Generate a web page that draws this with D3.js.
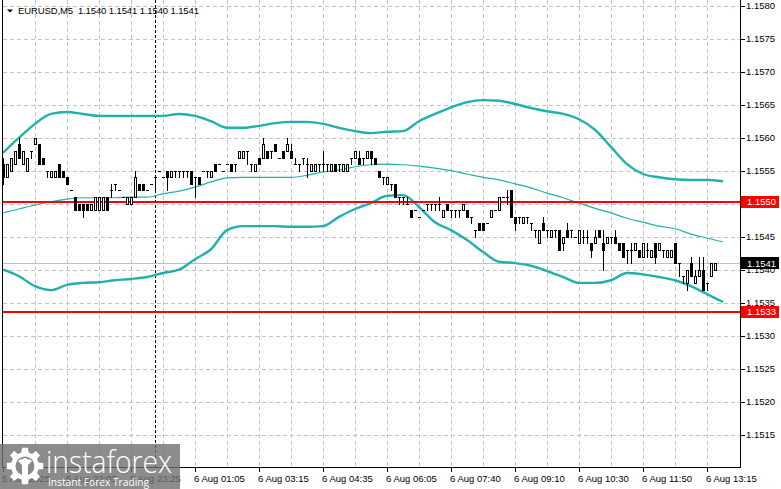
<!doctype html>
<html lang="en">
<head>
  <meta charset="utf-8">
  <title>EURUSD,M5</title>
  <style>
  body { margin: 0; background: #fff; }
  svg { display: block; font-family: "Liberation Sans", Arial, sans-serif; }
  .grid line { stroke: #c4c4c4; stroke-dasharray: 4,3; shape-rendering: crispEdges; }
  .frame line { stroke: #000; shape-rendering: crispEdges; }
  .candles line, .candles rect { shape-rendering: crispEdges; }
  .band { fill: none; stroke: #20b2aa; stroke-linejoin: round; }
  .axis text { font-size: 9.5px; fill: #000; }
  </style>
</head>
<body>
  <div id="chart"></div>
  <script src="https://cdn.jsdelivr.net/npm/d3@7/dist/d3.min.js"></script>
  <script>
    // EURUSD M5 bars, oldest first
    var open = [1.1556,1.1554,1.1555,1.1556,1.1559,1.1556,1.1555,1.1558,1.1559,1.1559,
      1.1557,1.1555,1.1554,1.1554,1.1556,1.1555,1.1554,1.1552,1.1551,1.1550,
      1.1550,1.1550,1.1549,1.1549,1.1549,1.1549,1.1551,1.1552,1.1553,1.1552,
      1.1551,1.1550,1.1550,1.1551,1.1553,1.1553,1.1552,1.1553,1.1554,1.1555,
      1.1554,1.1555,1.1554,1.1555,1.1555,1.1555,1.1555,1.1555,1.1554,1.1554,
      1.1555,1.1555,1.1554,1.1556,1.1556,1.1555,1.1556,1.1556,1.1556,1.1557,
      1.1557,1.1558,1.1556,1.1555,1.1557,1.1557,1.1558,1.1558,1.1559,1.1557,
      1.1558,1.1558,1.1558,1.1556,1.1556,1.1557,1.1556,1.1555,1.1555,1.1556,
      1.1556,1.1556,1.1555,1.1556,1.1556,1.1555,1.1555,1.1557,1.1557,1.1557,
      1.1557,1.1557,1.1558,1.1557,1.1555,1.1554,1.1553,1.1553,1.1553,1.1551,
      1.1551,1.1550,1.1549,1.1549,1.1548,1.1549,1.1550,1.1550,1.1550,1.1550,
      1.1548,1.1550,1.1549,1.1549,1.1549,1.1549,1.1549,1.1548,1.1546,1.1547,
      1.1547,1.1547,1.1548,1.1549,1.1549,1.1551,1.1551,1.1552,1.1548,1.1548,
      1.1547,1.1548,1.1547,1.1546,1.1544,1.1547,1.1546,1.1545,1.1546,1.1546,
      1.1544,1.1546,1.1546,1.1545,1.1544,1.1545,1.1545,1.1544,1.1544,1.1546,
      1.1544,1.1544,1.1545,1.1545,1.1544,1.1544,1.1543,1.1543,1.1543,1.1543,
      1.1542,1.1543,1.1542,1.1544,1.1543,1.1543,1.1542,1.1542,1.1544,1.1541,
      1.1539,1.1538,1.1541,1.1538,1.1539,1.1540,1.1538,1.1539,1.1540];
    var high = [1.1557,1.1556,1.1557,1.1558,1.1560,1.1558,1.1557,1.1558,1.1560,1.1559,
      1.1557,1.1555,1.1555,1.1555,1.1556,1.1555,1.1554,1.1552,1.1551,1.1550,
      1.1550,1.1550,1.1550,1.1551,1.1551,1.1551,1.1551,1.1553,1.1553,1.1552,
      1.1551,1.1551,1.1551,1.1555,1.1553,1.1553,1.1552,1.1553,1.1554,1.1555,
      1.1554,1.1555,1.1555,1.1555,1.1555,1.1555,1.1555,1.1555,1.1554,1.1554,
      1.1555,1.1555,1.1555,1.1556,1.1556,1.1555,1.1556,1.1556,1.1556,1.1558,
      1.1558,1.1558,1.1556,1.1556,1.1557,1.1560,1.1558,1.1558,1.1559,1.1557,
      1.1558,1.1560,1.1559,1.1557,1.1556,1.1557,1.1557,1.1556,1.1556,1.1556,
      1.1558,1.1556,1.1556,1.1556,1.1556,1.1556,1.1556,1.1557,1.1558,1.1558,
      1.1557,1.1558,1.1558,1.1557,1.1555,1.1554,1.1554,1.1553,1.1553,1.1551,
      1.1551,1.1551,1.1549,1.1549,1.1548,1.1549,1.1550,1.1550,1.1550,1.1551,
      1.1549,1.1550,1.1549,1.1549,1.1549,1.1550,1.1549,1.1548,1.1546,1.1547,
      1.1547,1.1547,1.1549,1.1549,1.1551,1.1551,1.1552,1.1552,1.1548,1.1548,
      1.1548,1.1548,1.1547,1.1546,1.1546,1.1548,1.1546,1.1546,1.1546,1.1546,
      1.1545,1.1547,1.1546,1.1545,1.1546,1.1546,1.1546,1.1544,1.1546,1.1546,
      1.1546,1.1545,1.1545,1.1546,1.1544,1.1544,1.1543,1.1544,1.1544,1.1543,
      1.1544,1.1544,1.1543,1.1544,1.1544,1.1543,1.1543,1.1543,1.1544,1.1541,
      1.1539,1.1540,1.1542,1.1540,1.1542,1.1542,1.1538,1.1541,1.1541];
    var low = [1.1553,1.1554,1.1555,1.1556,1.1557,1.1556,1.1555,1.1557,1.1559,1.1556,
      1.1556,1.1554,1.1554,1.1554,1.1554,1.1554,1.1553,1.1552,1.1549,1.1549,
      1.1548,1.1549,1.1549,1.1549,1.1549,1.1549,1.1549,1.1551,1.1552,1.1552,
      1.1551,1.1550,1.1550,1.1551,1.1552,1.1552,1.1552,1.1553,1.1552,1.1555,
      1.1554,1.1552,1.1554,1.1554,1.1554,1.1554,1.1554,1.1553,1.1551,1.1553,
      1.1555,1.1554,1.1554,1.1555,1.1556,1.1555,1.1556,1.1555,1.1555,1.1557,
      1.1557,1.1556,1.1555,1.1555,1.1556,1.1557,1.1557,1.1557,1.1558,1.1557,
      1.1557,1.1558,1.1557,1.1556,1.1555,1.1556,1.1554,1.1555,1.1555,1.1555,
      1.1555,1.1555,1.1555,1.1555,1.1555,1.1555,1.1555,1.1556,1.1557,1.1556,
      1.1556,1.1557,1.1556,1.1556,1.1554,1.1553,1.1553,1.1552,1.1551,1.1550,
      1.1550,1.1550,1.1548,1.1549,1.1548,1.1549,1.1549,1.1549,1.1549,1.1549,
      1.1548,1.1549,1.1548,1.1548,1.1548,1.1549,1.1548,1.1547,1.1545,1.1546,
      1.1546,1.1547,1.1548,1.1549,1.1549,1.1551,1.1550,1.1548,1.1546,1.1547,
      1.1547,1.1547,1.1546,1.1545,1.1544,1.1546,1.1545,1.1545,1.1545,1.1543,
      1.1543,1.1545,1.1545,1.1545,1.1544,1.1544,1.1544,1.1542,1.1544,1.1545,
      1.1540,1.1544,1.1544,1.1544,1.1543,1.1542,1.1541,1.1541,1.1543,1.1542,
      1.1542,1.1542,1.1542,1.1541,1.1543,1.1542,1.1542,1.1542,1.1541,1.1539,
      1.1538,1.1537,1.1539,1.1538,1.1539,1.1537,1.1537,1.1539,1.1540];
    var close = [1.1554,1.1556,1.1557,1.1558,1.1557,1.1558,1.1557,1.1558,1.1560,1.1556,
      1.1556,1.1555,1.1555,1.1555,1.1554,1.1554,1.1553,1.1552,1.1549,1.1549,
      1.1549,1.1549,1.1550,1.1551,1.1551,1.1551,1.1549,1.1552,1.1553,1.1552,
      1.1551,1.1551,1.1551,1.1554,1.1552,1.1552,1.1552,1.1553,1.1554,1.1555,
      1.1554,1.1554,1.1555,1.1555,1.1555,1.1555,1.1555,1.1553,1.1554,1.1553,
      1.1555,1.1555,1.1555,1.1555,1.1556,1.1555,1.1556,1.1555,1.1556,1.1558,
      1.1558,1.1558,1.1556,1.1556,1.1556,1.1559,1.1557,1.1558,1.1558,1.1557,
      1.1557,1.1559,1.1557,1.1556,1.1556,1.1557,1.1556,1.1556,1.1556,1.1556,
      1.1556,1.1556,1.1556,1.1555,1.1556,1.1556,1.1556,1.1557,1.1558,1.1556,
      1.1557,1.1558,1.1557,1.1556,1.1554,1.1554,1.1554,1.1553,1.1551,1.1551,
      1.1551,1.1550,1.1548,1.1549,1.1548,1.1549,1.1550,1.1550,1.1550,1.1550,
      1.1549,1.1549,1.1549,1.1549,1.1549,1.1550,1.1548,1.1548,1.1546,1.1546,
      1.1546,1.1547,1.1549,1.1549,1.1551,1.1551,1.1551,1.1548,1.1547,1.1548,
      1.1548,1.1548,1.1547,1.1546,1.1546,1.1546,1.1546,1.1546,1.1546,1.1543,
      1.1545,1.1545,1.1546,1.1545,1.1546,1.1545,1.1545,1.1543,1.1545,1.1545,
      1.1543,1.1545,1.1545,1.1544,1.1543,1.1542,1.1543,1.1543,1.1544,1.1542,
      1.1544,1.1543,1.1543,1.1542,1.1544,1.1543,1.1543,1.1543,1.1541,1.1541,
      1.1539,1.1540,1.1539,1.1539,1.1540,1.1537,1.1538,1.1541,1.1541];

    // Bollinger bands (20), read every 4th bar
    var upperBand = [1.15577,1.15600,1.15621,1.15636,1.15639,1.15636,1.15633,1.15633,1.15633,1.15633,
      1.15633,1.15636,1.15633,1.15625,1.15615,1.15615,1.15618,1.15622,1.15624,1.15624,
      1.15621,1.15615,1.15610,1.15607,1.15609,1.15610,1.15625,1.15636,1.15646,1.15654,
      1.15657,1.15656,1.15651,1.15645,1.15640,1.15636,1.15628,1.15612,1.15586,1.15560,
      1.15545,1.15540,1.15537,1.15536,1.15536,1.15534];
    var middleBand = [1.15486,1.15492,1.15498,1.15503,1.15507,1.15509,1.15509,1.15509,1.15510,1.15510,
      1.15515,1.15519,1.15525,1.15533,1.15539,1.15540,1.15540,1.15540,1.15540,1.15543,
      1.15548,1.15551,1.15556,1.15559,1.15560,1.15559,1.15557,1.15554,1.15550,1.15545,
      1.15540,1.15536,1.15530,1.15524,1.15516,1.15509,1.15501,1.15493,1.15486,1.15478,
      1.15472,1.15466,1.15462,1.15454,1.15448,1.15442];
    var lowerBand = [1.15400,1.15390,1.15375,1.15369,1.15377,1.15380,1.15381,1.15384,1.15386,1.15389,
      1.15395,1.15400,1.15416,1.15431,1.15460,1.15466,1.15466,1.15466,1.15465,1.15465,
      1.15466,1.15480,1.15492,1.15501,1.15512,1.15513,1.15495,1.15472,1.15460,1.15445,
      1.15427,1.15412,1.15410,1.15406,1.15398,1.15389,1.15380,1.15380,1.15384,1.15395,
      1.15393,1.15389,1.15384,1.15375,1.15363,1.15351];
    var bandStep = 4;

    var priceTicks = [1.1515,1.1520,1.1525,1.1530,1.1535,1.1540,1.1545,1.1550,1.1555,1.1560,1.1565,1.1570,1.1575,1.1580];
    var timeLabels = ["5 Aug 2025","5 Aug 22:05","5 Aug 23:25","6 Aug 01:05","6 Aug 03:15","6 Aug 04:35",
      "6 Aug 06:05","6 Aug 07:40","6 Aug 09:10","6 Aug 10:30","6 Aug 11:50","6 Aug 13:15"];
    var labelStep = 16;
    var dayStartBar = 38;

    var levels = [1.15503, 1.15336];
    var levelLabels = ["1.1550", "1.1533"];
    var bidPrice = 1.1541;

    (function(){
      var width = 781, height = 489;
      var left = 2.5, right = 740.5, bottom = 467.5;
      var fmt = d3.format('.4f');
      var px = function(v) { return Math.round(v) + 0.5; };

      var x = d3.scaleLinear().domain([0, 180]).range([3, 723]);
      var y = d3.scaleLinear().domain([1.1510, 1.1580]).range([467.7, 5.7]);

      var svg = d3.select('#chart').append('svg')
          .attr('width', width)
          .attr('height', height);

      // grid
      var grid = svg.append('g').attr('class', 'grid');
      grid.selectAll('line.h').data(priceTicks).enter().append('line')
        .attr('class', 'h')
        .attr('x1', left).attr('x2', right)
        .attr('y1', function(d) { return px(y(d)); })
        .attr('y2', function(d) { return px(y(d)); });
      grid.selectAll('line.v').data(d3.range(8, 181, 8)).enter().append('line')
        .attr('class', 'v')
        .attr('y1', 0).attr('y2', bottom)
        .attr('x1', function(d) { return px(x(d)); })
        .attr('x2', function(d) { return px(x(d)); });

      // day separator
      svg.append('line')
        .attr('x1', px(x(dayStartBar))).attr('x2', px(x(dayStartBar)))
        .attr('y1', 0).attr('y2', bottom)
        .attr('stroke', '#000').attr('stroke-dasharray', '3,2')
        .style('shape-rendering', 'crispEdges');

      // bid line
      svg.append('line')
        .attr('x1', left).attr('x2', right)
        .attr('y1', px(y(bidPrice))).attr('y2', px(y(bidPrice)))
        .attr('stroke', '#c0c0c0')
        .style('shape-rendering', 'crispEdges');

      // bands
      var bandLine = d3.line()
        .x(function(d, i) { return x(i * bandStep); })
        .y(function(d) { return y(d); })
        .curve(d3.curveMonotoneX);
      svg.append('path').attr('class', 'band').attr('d', bandLine(upperBand)).attr('stroke-width', 2.4);
      svg.append('path').attr('class', 'band').attr('d', bandLine(lowerBand)).attr('stroke-width', 2.4);
      svg.append('path').attr('class', 'band').attr('d', bandLine(middleBand)).attr('stroke-width', 1.2);

      // support / resistance
      svg.selectAll('line.level').data(levels).enter().append('line')
        .attr('class', 'level')
        .attr('x1', left).attr('x2', right)
        .attr('y1', function(d) { return Math.round(y(d)); })
        .attr('y2', function(d) { return Math.round(y(d)); })
        .attr('stroke', '#ff0000').attr('stroke-width', 2);

      // candles
      var bars = d3.range(open.length).map(function(i) {
        return { i: i, o: open[i], h: high[i], l: low[i], c: close[i] };
      });
      var candles = svg.append('g').attr('class', 'candles');
      var cx = function(d) { return Math.round(x(d.i)); };
      var ry = function(v) { return Math.round(y(v)); };

      candles.selectAll('line.wick').data(bars).enter().append('line')
        .attr('class', 'wick')
        .attr('x1', function(d) { return cx(d) + 0.5; })
        .attr('x2', function(d) { return cx(d) + 0.5; })
        .attr('y1', function(d) { return ry(d.h); })
        .attr('y2', function(d) { return ry(d.l) + 1; })
        .attr('stroke', '#000');

      candles.selectAll('rect.up').data(bars.filter(function(d) { return d.c > d.o; })).enter().append('rect')
        .attr('class', 'up')
        .attr('x', function(d) { return cx(d) - 0.5; })
        .attr('y', function(d) { return ry(d.c) + 0.5; })
        .attr('width', 2)
        .attr('height', function(d) { return ry(d.o) - ry(d.c); })
        .attr('fill', '#fff').attr('stroke', '#000');

      candles.selectAll('rect.down').data(bars.filter(function(d) { return d.c < d.o; })).enter().append('rect')
        .attr('class', 'down')
        .attr('x', function(d) { return cx(d) - 1; })
        .attr('y', function(d) { return ry(d.o); })
        .attr('width', 3)
        .attr('height', function(d) { return ry(d.c) - ry(d.o) + 1; })
        .attr('fill', '#000');

      candles.selectAll('line.doji').data(bars.filter(function(d) { return d.c === d.o; })).enter().append('line')
        .attr('class', 'doji')
        .attr('x1', function(d) { return cx(d) - 1; })
        .attr('x2', function(d) { return cx(d) + 2; })
        .attr('y1', function(d) { return ry(d.o) + 0.5; })
        .attr('y2', function(d) { return ry(d.o) + 0.5; })
        .attr('stroke', '#000');

      // frame
      var frame = svg.append('g').attr('class', 'frame');
      frame.append('line').attr('x1', left).attr('x2', left).attr('y1', 0).attr('y2', bottom);
      frame.append('line').attr('x1', right).attr('x2', right).attr('y1', 0).attr('y2', bottom);
      frame.append('line').attr('x1', left).attr('x2', right).attr('y1', bottom).attr('y2', bottom);

      // price axis
      var yAxis = svg.append('g').attr('class', 'axis');
      yAxis.selectAll('line').data(priceTicks).enter().append('line')
        .attr('x1', right).attr('x2', right + 4)
        .attr('y1', function(d) { return px(y(d)); })
        .attr('y2', function(d) { return px(y(d)); })
        .attr('stroke', '#000').style('shape-rendering', 'crispEdges');
      yAxis.selectAll('text').data(priceTicks).enter().append('text')
        .attr('x', 746)
        .attr('y', function(d) { return y(d) + 3.5; })
        .text(fmt);

      // time axis
      var xAxis = svg.append('g').attr('class', 'axis');
      xAxis.selectAll('line').data(timeLabels).enter().append('line')
        .attr('x1', function(d, i) { return px(x(i * labelStep)); })
        .attr('x2', function(d, i) { return px(x(i * labelStep)); })
        .attr('y1', bottom).attr('y2', bottom + 4)
        .attr('stroke', '#000').style('shape-rendering', 'crispEdges');
      xAxis.selectAll('text').data(timeLabels).enter().append('text')
        .attr('x', function(d, i) { return x(i * labelStep) - 1; })
        .attr('y', 482)
        .text(function(d) { return d; });

      // level tags
      var tags = svg.append('g').attr('class', 'axis');
      tags.selectAll('rect').data(levels).enter().append('rect')
        .attr('x', 741).attr('width', 38)
        .attr('y', function(d) { return Math.round(y(d)) - 6; })
        .attr('height', 12)
        .attr('fill', '#ff0000');
      tags.selectAll('text').data(levels).enter().append('text')
        .attr('x', 747)
        .attr('y', function(d) { return y(d) + 3.5; })
        .style('fill', '#fff')
        .text(function(d, i) { return levelLabels[i]; });
      tags.append('rect')
        .attr('x', 741).attr('width', 38)
        .attr('y', Math.round(y(bidPrice)) - 6).attr('height', 12)
        .attr('fill', '#000');
      tags.append('text')
        .attr('x', 747).attr('y', y(bidPrice) + 3.5)
        .style('fill', '#fff')
        .text(fmt(bidPrice));

      // title
      var last = bars[bars.length - 1];
      svg.append('path').attr('d', 'M7,9.5L13,9.5L10,12.5Z').attr('fill', '#000');
      svg.append('text')
        .attr('x', 18).attr('y', 14)
        .attr('textLength', 181).attr('lengthAdjust', 'spacing')
        .style('font-size', '9.5px').style('white-space', 'pre')
        .text('EURUSD,M5  ' + [last.o, last.h, last.l, last.c].map(fmt).join(' '));

      // watermark
      var wm = svg.append('g');
      wm.append('rect').attr('x', 0).attr('y', 444).attr('width', 180).attr('height', 45)
        .attr('fill', '#6f6f6f').attr('fill-opacity', 0.8);
      var gx = 25, gy = 466, pts = [];
      for (var t = 0; t < 8; t++) {
        var a = t * Math.PI / 4;
        [[-0.26, 14], [-0.16, 18.5], [0.16, 18.5], [0.26, 14]].forEach(function(p) {
          pts.push([gx + p[1] * Math.cos(a + p[0]), gy + p[1] * Math.sin(a + p[0])]);
        });
      }
      wm.append('path').attr('d', d3.line()(pts) + 'Z').attr('fill', '#fff');
      wm.append('circle').attr('cx', gx).attr('cy', gy).attr('r', 9.5).attr('fill', '#8a8a8a');
      wm.append('circle').attr('cx', gx).attr('cy', gy - 5).attr('r', 3).attr('fill', '#fff');
      wm.append('path').attr('d', 'M18,461L22,465L22,476L28,476L28,465L32,461L29,459L25,462L21,459Z').attr('fill', '#fff');
      wm.append('text').attr('x', 46).attr('y', 473)
        .attr('textLength', 126).attr('lengthAdjust', 'spacingAndGlyphs')
        .style('font-family', '"Open Sans", sans-serif').style('font-weight', 300)
        .style('font-size', '31px').style('fill', '#fff')
        .text('instaforex');
      wm.append('text').attr('x', 48).attr('y', 486)
        .attr('textLength', 101).attr('lengthAdjust', 'spacingAndGlyphs')
        .style('font-family', '"Open Sans", sans-serif')
        .style('font-size', '11px').style('fill', '#fff')
        .text('Instant Forex Trading');
    })();
  </script>
</body>
</html>
